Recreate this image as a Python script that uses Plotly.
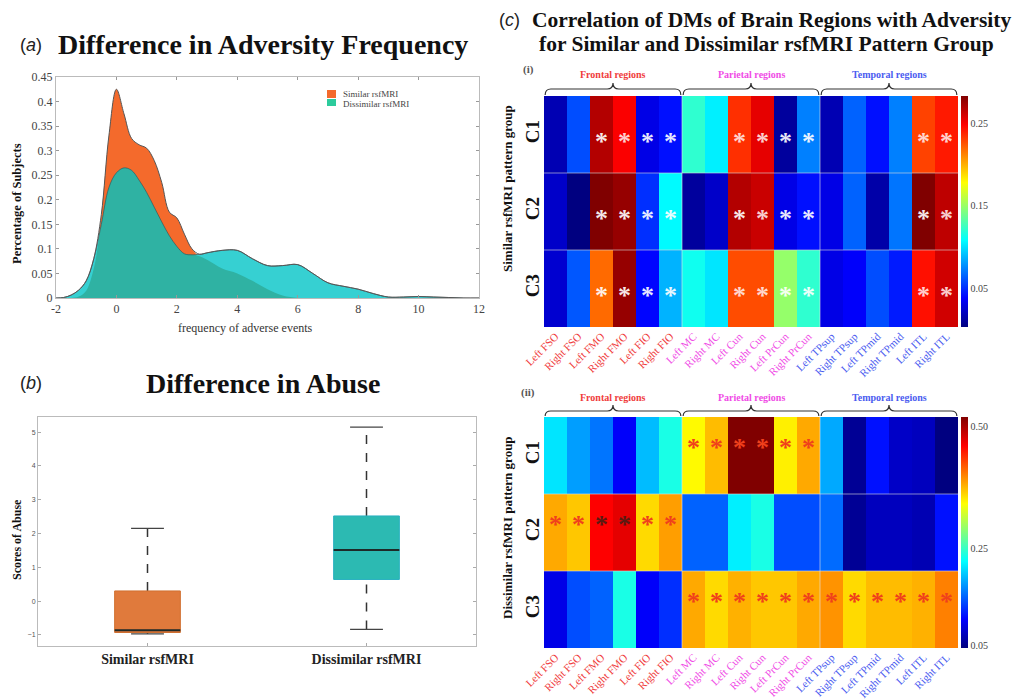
import numpy as np
import plotly.graph_objects as go

W, H = 1029, 699
def fx(p): return p / W
def fy(p): return 1 - p / H

SERIF = "Liberation Serif, Times New Roman, serif"
SANS = "Liberation Sans, Arial, sans-serif"

# ---------------- (a) density data ----------------
freq_x = [-2, -1.75, -1.5, -1.25, -1, -0.75, -0.5, -0.25, 0, 0.25, 0.5, 0.75, 1, 1.25, 1.5,
          1.75, 2, 2.25, 2.5, 2.75, 3, 3.5, 4, 4.5, 5, 5.5, 6, 6.5, 7, 7.5, 8, 8.5, 9, 9.5,
          10, 10.5, 11, 11.5, 12]
similar_density = [0, 0, 0, 0.003, 0.015, 0.06, 0.17, 0.33, 0.425, 0.375, 0.325, 0.312, 0.305,
                   0.28, 0.235, 0.175, 0.163, 0.13, 0.1, 0.085, 0.078, 0.06, 0.05, 0.035, 0.018,
                   0.005, 0, 0, 0, 0, 0, 0, 0, 0, 0, 0, 0, 0, 0]
dissimilar_density = [0, 0.001, 0.006, 0.016, 0.035, 0.08, 0.15, 0.225, 0.255, 0.265, 0.26, 0.24,
                      0.215, 0.185, 0.155, 0.127, 0.105, 0.09, 0.088, 0.089, 0.092, 0.097, 0.097,
                      0.08, 0.066, 0.066, 0.068, 0.05, 0.031, 0.024, 0.018, 0.009, 0.002, 0.002,
                      0.003, 0.002, 0.001, 0, 0]
freq_ticks = [-2, 0, 2, 4, 6, 8, 10, 12]

# ---------------- (b) box data ----------------
box_groups = ["Similar rsfMRI", "Dissimilar rsfMRI"]
box_lower = [-0.97, -0.84]
box_q1 = [-0.93, 0.64]
box_median = [-0.86, 1.51]
box_q3 = [0.30, 2.52]
box_upper = [2.15, 5.15]

# ---------------- (c) heatmap data ----------------
regions = ["Left FSO", "Right FSO", "Left FMO", "Right FMO", "Left FIO", "Right FIO",
           "Left MC", "Right MC", "Left Cun", "Right Cun", "Left PrCun", "Right PrCun",
           "Left TPsup", "Right TPsup", "Left TPmid", "Right TPmid", "Left ITL", "Right ITL"]
region_group = ["F"] * 6 + ["P"] * 6 + ["T"] * 6
clusters = ["C1", "C2", "C3"]

corr_similar = [
    [0.017, 0.059, 0.269, 0.249, 0.031, 0.042, 0.121, 0.104, 0.235, 0.255, 0.011, 0.073, 0.017, 0.065, 0.042, 0.073, 0.230, 0.241],
    [0.023, 0.003, 0.283, 0.277, 0.051, 0.107, 0.011, 0.023, 0.269, 0.263, 0.031, 0.042, 0.031, 0.065, 0.014, 0.070, 0.283, 0.266],
    [0.025, 0.062, 0.219, 0.277, 0.039, 0.087, 0.112, 0.101, 0.227, 0.227, 0.149, 0.121, 0.031, 0.037, 0.059, 0.045, 0.244, 0.261],
]
sig_similar = [
    [0, 0, 1, 1, 1, 1, 0, 0, 1, 1, 1, 1, 0, 0, 0, 0, 1, 1],
    [0, 0, 1, 1, 1, 1, 0, 0, 1, 1, 1, 1, 0, 0, 0, 0, 1, 1],
    [0, 0, 1, 1, 1, 1, 0, 0, 1, 1, 1, 1, 0, 0, 0, 0, 1, 1],
]
corr_dissimilar = [
    [0.211, 0.178, 0.159, 0.102, 0.192, 0.235, 0.344, 0.373, 0.520, 0.520, 0.349, 0.382, 0.183, 0.055, 0.112, 0.078, 0.074, 0.045],
    [0.382, 0.368, 0.461, 0.473, 0.359, 0.387, 0.150, 0.150, 0.216, 0.235, 0.140, 0.140, 0.154, 0.055, 0.074, 0.074, 0.069, 0.112],
    [0.093, 0.140, 0.150, 0.235, 0.102, 0.126, 0.382, 0.359, 0.378, 0.368, 0.368, 0.382, 0.392, 0.359, 0.373, 0.373, 0.378, 0.401],
]
sig_dissimilar = [
    [0, 0, 0, 0, 0, 0, 1, 1, 1, 1, 1, 1, 0, 0, 0, 0, 0, 0],
    [1, 1, 1, 1, 1, 1, 0, 0, 0, 0, 0, 0, 0, 0, 0, 0, 0, 0],
    [0, 0, 0, 0, 0, 0, 1, 1, 1, 1, 1, 1, 1, 1, 1, 1, 1, 1],
]
cbar_similar = [0.05, 0.15, 0.25]
cbar_dissimilar = [0.05, 0.25, 0.50]

# ---------------- styles ----------------
ORANGE = "#F46A2C"
CYAN = "#36D0D2"
TEAL = "#2FB2A3"
GROUP_COL = {"F": "#F03C3C", "P": "#F04CE6", "T": "#4A5CF0"}
JET = [[0, "rgb(0,0,128)"], [0.125, "rgb(0,0,255)"], [0.375, "rgb(0,255,255)"],
       [0.625, "rgb(255,255,0)"], [0.875, "rgb(255,0,0)"], [1, "rgb(128,0,0)"]]

fig = go.Figure()

# ---- (a) densities ----
sim = np.array(similar_density)
dis = np.array(dissimilar_density)
fig.add_trace(go.Scatter(x=freq_x, y=sim, mode="lines", fill="tozeroy", fillcolor=ORANGE,
                         line=dict(width=0, shape="spline", color=ORANGE), xaxis="x", yaxis="y",
                         showlegend=False, hoverinfo="skip"))
fig.add_trace(go.Scatter(x=freq_x, y=dis, mode="lines", fill="tozeroy", fillcolor=CYAN,
                         line=dict(width=0, shape="spline", color=CYAN), xaxis="x", yaxis="y",
                         showlegend=False, hoverinfo="skip"))
fig.add_trace(go.Scatter(x=freq_x, y=np.minimum(sim, dis), mode="lines", fill="tozeroy",
                         fillcolor=TEAL, line=dict(width=0, shape="spline", color=TEAL),
                         xaxis="x", yaxis="y", showlegend=False, hoverinfo="skip"))
fig.add_trace(go.Scatter(x=freq_x, y=dis, mode="lines",
                         line=dict(width=0.8, shape="spline", color="rgba(60,60,60,0.7)"),
                         xaxis="x", yaxis="y", showlegend=False, hoverinfo="skip"))
fig.add_trace(go.Scatter(x=freq_x, y=np.maximum(sim, dis), mode="lines",
                         line=dict(width=1, shape="spline", color="#555555"),
                         xaxis="x", yaxis="y", showlegend=False, hoverinfo="skip"))

# ---- (b) boxes ----
box_fill = ["#E07A3C", "#2CBAB2"]
box_edge = ["#D07030", "#28B0C0"]
BW, CW = 0.15, 0.075
for i in range(len(box_groups)):
    q1, q3, md, lo, up = box_q1[i], box_q3[i], box_median[i], box_lower[i], box_upper[i]
    fig.add_trace(go.Scatter(x=[i, i], y=[q3, up], mode="lines", xaxis="x2", yaxis="y2",
                             line=dict(color="#333333", width=1.5, dash="dash"),
                             showlegend=False, hoverinfo="skip"))
    fig.add_trace(go.Scatter(x=[i, i], y=[lo, q1], mode="lines", xaxis="x2", yaxis="y2",
                             line=dict(color="#333333", width=1.5, dash="dash"),
                             showlegend=False, hoverinfo="skip"))
    for v in (up, lo):
        fig.add_trace(go.Scatter(x=[i - CW, i + CW], y=[v, v], mode="lines", xaxis="x2", yaxis="y2",
                                 line=dict(color="#444444", width=1.3),
                                 showlegend=False, hoverinfo="skip"))
    fig.add_trace(go.Scatter(x=[i - BW, i + BW, i + BW, i - BW, i - BW], y=[q1, q1, q3, q3, q1],
                             mode="lines", fill="toself", fillcolor=box_fill[i],
                             line=dict(color=box_edge[i], width=1), xaxis="x2", yaxis="y2",
                             showlegend=False, hoverinfo="skip"))
    fig.add_trace(go.Scatter(x=[i - BW, i + BW], y=[md, md], mode="lines", xaxis="x2", yaxis="y2",
                             line=dict(color="#1E2A28", width=2),
                             showlegend=False, hoverinfo="skip"))

# ---- (c) heatmaps ----
def add_heat(z, sig, xa, ya, zmin, zmax, cb_ticks, cb_top, cb_bot, star_base, star_dark, star_dy):
    ncol = len(regions)
    fig.add_trace(go.Heatmap(z=z, x=list(range(ncol)), y=list(range(len(clusters))),
                             colorscale=JET, zmin=zmin, zmax=zmax, xaxis=xa, yaxis=ya,
                             hoverinfo="skip",
                             colorbar=dict(x=fx(961), xanchor="left", xpad=0, thickness=7,
                                           len=(cb_bot - cb_top) / H, lenmode="fraction",
                                           y=fy((cb_top + cb_bot) / 2), yanchor="middle", ypad=0,
                                           outlinewidth=0, tickvals=cb_ticks,
                                           ticktext=["%.2f" % t for t in cb_ticks],
                                           ticks="", tickfont=dict(family=SERIF, size=10, color="#444"))))
    sx, sy, sc = [], [], []
    for r in range(len(clusters)):
        for c in range(ncol):
            if sig[r][c]:
                t = (z[r][c] - zmin) / (zmax - zmin)
                sx.append(c)
                sy.append(r + star_dy)
                sc.append(star_dark if 0.8 <= t < 0.95 else star_base)
    fig.add_trace(go.Scatter(x=sx, y=sy, mode="text", text=["*"] * len(sx), xaxis=xa, yaxis=ya,
                             textposition="middle center",
                             textfont=dict(family=SERIF, size=26, color=sc, weight="bold"),
                             showlegend=False, hoverinfo="skip"))

add_heat(corr_similar, sig_similar, "x3", "y3", 0.003, 0.283, cbar_similar, 96, 327,
         "rgba(255,255,255,0.92)", "rgba(255,235,235,0.9)", 0.12)
add_heat(corr_dissimilar, sig_dissimilar, "x4", "y4", 0.045, 0.52, cbar_dissimilar, 417, 648,
         "#F0401C", "#5A1A12", -0.08)

ticktext = ['<span style="color:%s">%s</span>' % (GROUP_COL[g], n) for n, g in zip(regions, region_group)]

axis_a = dict(showline=True, mirror="ticks", linecolor="#BBBBBB", linewidth=1, ticks="inside",
              ticklen=3, tickcolor="#999", showgrid=False, zeroline=False, automargin=False,
              tickfont=dict(family=SERIF, size=12, color="#444"))
heat_x = dict(tickmode="array", tickvals=list(range(len(regions))), ticktext=ticktext,
              tickangle=-45, tickfont=dict(family=SERIF, size=11), range=[-0.5, len(regions) - 0.5],
              showgrid=False, zeroline=False, ticks="", automargin=False, ticklabelstandoff=0)
heat_y = dict(tickmode="array", tickvals=list(range(len(clusters))), ticktext=clusters,
              tickangle=-90, tickfont=dict(family=SERIF, size=19, color="#111", weight="bold"),
              range=[len(clusters) - 0.5, -0.5], showgrid=False, zeroline=False, ticks="",
              automargin=False)

fig.update_layout(
    width=W, height=H, autosize=False, margin=dict(l=0, r=0, t=0, b=0, autoexpand=False),
    paper_bgcolor="white", plot_bgcolor="white", showlegend=False,
    xaxis=dict(domain=[fx(56), fx(479)], anchor="y", range=[-2, 12], tickmode="array",
               tickvals=freq_ticks, ticktext=[str(t) for t in freq_ticks], **axis_a),
    yaxis=dict(domain=[fy(298), fy(77)], anchor="x", range=[0, 0.45], dtick=0.05, **axis_a),
    xaxis2=dict(domain=[fx(38), fx(476)], anchor="y2", range=[-0.5, 1.5], tickmode="array",
                tickvals=[0, 1], ticktext=box_groups, showline=True, mirror=True,
                linecolor="#BBBBBB", ticks="inside", ticklen=3, tickcolor="#aaa", showgrid=False,
                zeroline=False, automargin=False,
                tickfont=dict(family=SERIF, size=14, color="#222", weight="bold")),
    yaxis2=dict(domain=[fy(646), fy(417)], anchor="x2", range=[-1.33, 5.45], dtick=1,
                showline=True, mirror="ticks", linecolor="#BBBBBB", ticks="inside", ticklen=3,
                tickcolor="#aaa", showgrid=False, zeroline=False, automargin=False,
                tickfont=dict(family=SANS, size=7, color="#555")),
    xaxis3=dict(domain=[fx(544), fx(958)], anchor="y3", **heat_x),
    yaxis3=dict(domain=[fy(327), fy(96)], anchor="x3", **heat_y),
    xaxis4=dict(domain=[fx(544), fx(958)], anchor="y4", **heat_x),
    yaxis4=dict(domain=[fy(648), fy(417)], anchor="x4", **heat_y),
)

ann = []
def A(text, x, y, size, family=SERIF, color="#111", xanchor="center", angle=0, xref="paper", bold=False, **kw):
    ann.append(dict(text=("<b>%s</b>" % text) if bold else text, x=x if xref != "paper" else fx(x),
                    y=fy(y), xref=xref, yref="paper", showarrow=False, xanchor=xanchor,
                    yanchor="middle", textangle=angle,
                    font=dict(family=family, size=size, color=color), **kw))

# titles
A("(<i>a</i>)", 18, 45, 18, family=SANS, color="#222", xanchor="left")
A("Difference in Adversity Frequency", 263, 45, 28, bold=True)
A("(<i>b</i>)", 18, 383, 18, family=SANS, color="#222", xanchor="left")
A("Difference in Abuse", 263, 383, 28, bold=True)
A("(<i>c</i>)", 497, 20, 18, family=SANS, color="#222", xanchor="left")
A("Correlation of DMs of Brain Regions with Adversity", 771, 20, 21.5, bold=True)
A("for Similar and Dissimilar rsfMRI Pattern Group", 766, 44, 21.5, bold=True)
# (a) labels
A("Percentage of Subjects", 17, 204, 12.5, bold=True, angle=-90)
A("frequency of adverse events", 245, 328, 12, color="#333")
A("Similar rsfMRI", 341, 94, 9, color="#444", xanchor="left")
A("Dissimilar rsfMRI", 341, 104, 9, color="#444", xanchor="left")
# (b) labels
A("Scores of Abuse", 17, 540, 12, bold=True, angle=-90)
# (c) labels
A("(i)", 528, 70, 11, color="#555", bold=True)
A("(ii)", 528, 392, 11, color="#555", bold=True)
A("Similar rsfMRI pattern group", 507, 189, 13, bold=True, angle=-90)
A("Dissimilar rsfMRI pattern group", 507, 528, 13, bold=True, angle=-90)
group_names = [("Frontal regions", "F", 2.5), ("Parietal regions", "P", 8.5), ("Temporal regions", "T", 14.5)]
for xa, yl in (("x3", 75), ("x4", 397)):
    for name, g, cx in group_names:
        A(name, cx, yl, 10, color=GROUP_COL[g], bold=True, xref=xa)

shapes = []
# legend swatches (a)
shapes.append(dict(type="rect", xref="paper", yref="paper", x0=fx(327), x1=fx(336), y0=fy(98), y1=fy(90),
                   fillcolor=ORANGE, line=dict(width=0)))
shapes.append(dict(type="rect", xref="paper", yref="paper", x0=fx(327), x1=fx(336), y0=fy(106), y1=fy(99),
                   fillcolor="#2CCB9C", line=dict(width=0)))
# braces
def brace(xa, a, b, y_end, y_mid, y_peak):
    c = (a + b) / 2
    d = 0.25
    ye, ym, yp = fy(y_end), fy(y_mid), fy(y_peak)
    path = (f"M {a},{ye} Q {a},{ym} {a+d},{ym} L {c-d},{ym} Q {c},{ym} {c},{yp} "
            f"Q {c},{ym} {c+d},{ym} L {b-d},{ym} Q {b},{ym} {b},{ye}")
    shapes.append(dict(type="path", xref=xa, yref="paper", path=path,
                       line=dict(color="#333", width=1.2)))
for xa, (ye, ym, yp) in (("x3", (95, 89, 83)), ("x4", (416, 411, 405))):
    for g0 in (0, 6, 12):
        brace(xa, g0 - 0.45, g0 + 5.45, ye, ym, yp)
# faint cell separators
for xa, ya in (("x3", "y3"), ("x4", "y4")):
    for yv in (0.5, 1.5):
        shapes.append(dict(type="line", xref=xa, yref=ya, x0=-0.5, x1=17.5, y0=yv, y1=yv,
                           line=dict(color="rgba(220,220,220,0.6)", width=1)))
    for xv in (5.5, 11.5):
        shapes.append(dict(type="line", xref=xa, yref=ya, x0=xv, x1=xv, y0=-0.5, y1=2.5,
                           line=dict(color="rgba(230,230,230,0.6)", width=1)))

fig.update_layout(annotations=ann, shapes=shapes)

fig.write_html("out.html", config={"displayModeBar": False},
               post_script="document.body.style.margin='0';document.body.style.overflow='hidden';")
